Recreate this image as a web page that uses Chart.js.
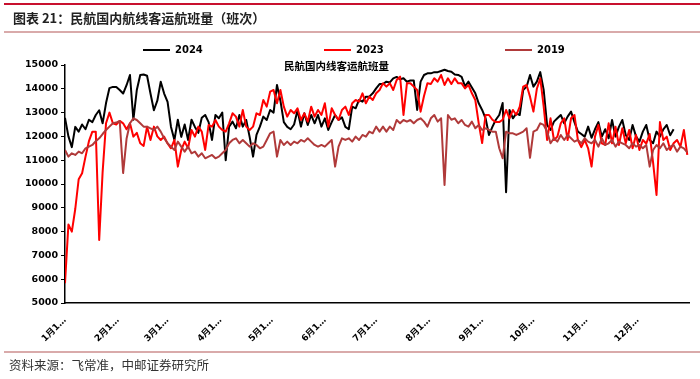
<!DOCTYPE html>
<html><head><meta charset="utf-8">
<script src="https://cdn.jsdelivr.net/npm/chart.js@4"></script>
<style>
html,body{margin:0;padding:0;background:#fff;}
#wrap{position:relative;width:700px;height:379px;overflow:hidden;background:#fff;}
#c{position:absolute;left:0;top:0;}
.topline{position:absolute;left:4px;right:0;top:3px;height:2px;background:#C8102E;}
.title{position:absolute;left:13px;top:9px;font:bold 13px 'Noto Sans CJK SC';color:#222;white-space:nowrap;line-height:18px;}
.subline{position:absolute;left:4px;right:0;top:31px;height:2px;background:#D9AAAA;}
.footline{position:absolute;left:4px;right:0;top:351px;height:2px;background:#D9AAAA;}
.source{position:absolute;left:9px;top:357px;font:12.5px 'Noto Sans CJK SC';color:#333;white-space:nowrap;line-height:16px;}
.lg{position:absolute;top:43px;height:14px;font:bold 10px 'DejaVu Sans';color:#000;line-height:14px;}
.lg i{position:absolute;top:6px;height:2px;width:27px;left:0;}
.lg span{position:absolute;left:32px;top:0;}
.sub{position:absolute;left:284px;top:59px;font:bold 10.5px 'Noto Sans CJK SC';color:#000;white-space:nowrap;line-height:14px;}
</style></head>
<body>
<div id="wrap">
<canvas id="c" width="700" height="379"></canvas>
<div class="topline"></div>
<div class="title">图表 21：民航国内航线客运航班量（班次）</div>
<div class="subline"></div>
<div class="lg" style="left:143px"><i style="background:#000"></i><span>2024</span></div>
<div class="lg" style="left:324px"><i style="background:#FF0000"></i><span>2023</span></div>
<div class="lg" style="left:505px"><i style="background:#B03A3A"></i><span>2019</span></div>
<div class="sub">民航国内线客运航班量</div>
<div class="footline"></div>
<div class="source">资料来源：飞常准，中邮证券研究所</div>
</div>
<script>
// day-of-year index of every sample (every 2 days)
const days = [];
for (let d = 0; d <= 364; d += 2) days.push(d);

const monthLabels = ['1月1…','2月1…','3月1…','4月1…','5月1…','6月1…','7月1…','8月1…','9月1…','10月…','11月…','12月…'];
const monthStartDays = [0,31,60,91,121,152,182,213,244,274,305,335];

const v2024 = [
12780,12000,11550,12400,12200,12500,12300,12700,12600,12900,
13100,12550,13400,14030,14080,14080,13950,13800,14150,14580,
12700,13950,14580,14600,14550,13800,13100,13500,14300,13800,
13450,12400,11850,12700,11980,12500,11850,12700,12400,12150,
12780,12900,12600,11850,12900,12760,13000,11000,12410,12620,
12340,12900,12410,12690,11980,11150,12060,12410,12830,12690,
13110,13000,14160,13500,12600,12400,12300,12500,13100,12410,
12970,12480,12900,12550,12900,12410,12760,12270,12600,12900,
12690,12800,12400,12300,13250,13180,13530,13460,13670,13670,
13810,14020,14200,14200,14300,14270,14440,14500,14400,14440,
14300,14350,14350,13110,14300,14580,14650,14650,14700,14700,
14750,14800,14750,14720,14600,14580,14500,14100,14300,14050,
13810,13390,13110,12760,12060,12400,12700,12900,13400,9650,
13110,12760,12970,12900,13950,14090,14580,14090,14300,14700,
13950,12480,12270,12620,12760,12900,12550,12830,13040,12600,
12200,12100,11990,12410,11940,12300,12600,11990,12300,11920,
12690,11990,12400,12690,12060,11850,12480,12000,11780,12200,
12480,11850,11710,12200,11990,12300,12480,12050,12300
];

const v2023 = [
5830,8300,8000,8950,10200,10450,11150,11800,12200,12200,
7650,10500,12550,13000,12550,12500,12650,12550,12300,12550,
11990,12150,11710,11600,12410,11850,12410,12000,11850,11990,
11700,11500,11850,10730,11430,11780,11500,12270,11990,12410,
12200,11430,12480,12410,12690,12410,12270,12200,12550,12970,
12830,12410,13110,12410,12270,12410,12970,12900,13530,13250,
13880,13950,13390,13950,13250,12830,13110,12970,13180,12690,
12970,12620,13250,12830,13110,12900,13390,12410,13180,12900,
12690,13110,13250,12900,13390,13530,13460,13810,13390,13670,
13530,13810,13950,14230,14090,14230,13950,14370,14510,12900,
14230,14230,14090,13950,13040,13700,14230,14200,14440,14300,
14580,14160,14440,14200,14440,14230,14230,14020,14160,13810,
13530,12550,11720,12900,12900,12700,12600,12600,12700,13110,
12760,13110,12900,13250,14090,14160,13670,13040,14000,14440,
13250,11850,12760,11850,11990,12550,12760,11850,12760,12900,
11850,11550,11850,11500,10730,11990,12480,11710,11640,12550,
11710,12410,11640,12340,11710,12270,11500,12060,11430,11850,
11700,12100,10900,9540,12600,11850,11990,11430,11710,11850,
11570,12270,11220
];

const v2019 = [
11430,11150,11290,11220,11360,11290,11500,11570,11640,11800,
11920,12100,12270,12410,12550,12580,12650,10460,11900,12550,
12760,12690,12550,12410,12410,12340,12270,12410,12200,11920,
11710,11570,11430,11780,11570,11360,11570,11290,11360,11150,
11290,11080,11150,11220,11080,11150,11290,11430,11710,11850,
11920,11710,11850,11710,11570,11710,11640,11500,11570,11850,
12130,12200,11150,11850,11640,11780,11640,11780,11710,11850,
11780,11920,11780,11640,11570,11640,11570,11710,11850,10730,
11570,11920,11850,11920,11780,11990,11850,12060,11990,12200,
12130,12410,12200,12410,12200,12410,12270,12690,12550,12690,
12620,12690,12550,12690,12760,12620,12410,12760,12900,12620,
12760,9960,12900,12700,12760,12550,12690,12480,12410,12620,
12340,12480,12270,12340,12270,12200,12200,11500,11080,12200,
12130,12130,12060,12130,12200,12340,11100,12200,12270,12550,
12480,12200,11710,11920,11780,12060,11850,12060,11920,11780,
11850,11710,11920,11780,11710,11850,11570,11920,11640,11710,
11850,11570,11780,11710,11640,11500,11710,11570,11640,11500,
11640,10730,11430,11640,11500,11710,11430,11570,11640,11360,
11570,11500,11330
];

const yTicks = {min: 5000, max: 15000, step: 1000};

function toPts(vals) { return vals.map((v, i) => ({x: days[i], y: v})); }

const tickFont = {family: "'DejaVu Sans','Noto Sans CJK SC'", weight: 'bold', size: 9.5};

new Chart(document.getElementById('c'), {
  type: 'line',
  data: {
    datasets: [
      {label: '2024', data: toPts(v2024), borderColor: '#000000', borderWidth: 2, order: 3},
      {label: '2023', data: toPts(v2023), borderColor: '#FF0000', borderWidth: 2, order: 2},
      {label: '2019', data: toPts(v2019), borderColor: '#B03A3A', borderWidth: 2, order: 1}
    ]
  },
  options: {
    responsive: false,
    animation: false,
    devicePixelRatio: 1,
    elements: {point: {radius: 0}, line: {tension: 0, borderJoinStyle: 'round'}},
    layout: {padding: {left: 0, right: 11, top: 65, bottom: 0}},
    plugins: {legend: {display: false}, tooltip: {enabled: false}, title: {display: false}},
    scales: {
      x: {
        type: 'linear', min: 0, max: 365,
        afterFit(s) { s.height = 76; },
        afterBuildTicks(s) { s.ticks = monthStartDays.map(v => ({value: v})); },
        ticks: {autoSkip: false, minRotation: 45, maxRotation: 45, padding: 4,
                callback: (v, i) => monthLabels[i], font: {...tickFont, size: 9}, color: '#000'},
        grid: {display: false},
        border: {display: true, color: '#000', width: 1.5}
      },
      y: {
        min: yTicks.min, max: yTicks.max,
        afterFit(s) { s.width = 65; },
        ticks: {stepSize: yTicks.step, font: tickFont, color: '#000', padding: 3,
                callback: v => String(v)},
        grid: {drawOnChartArea: false, tickLength: 4, color: '#000', lineWidth: 1},
        border: {display: true, color: '#000', width: 1.5}
      }
    }
  }
});
</script>
</body></html>
